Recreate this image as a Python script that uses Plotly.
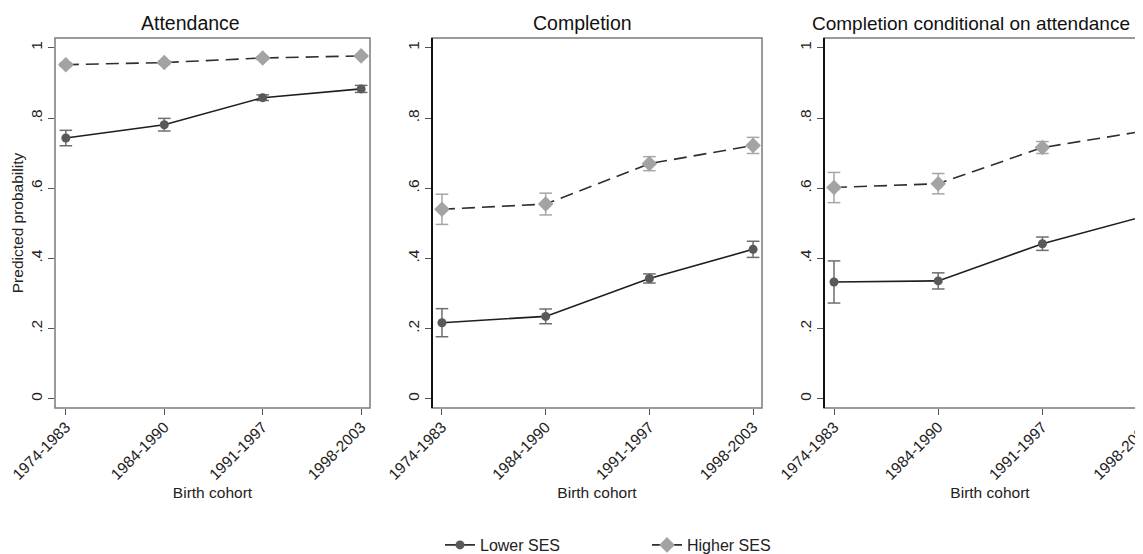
import plotly.graph_objects as go

# ---------------- data ----------------
cohorts = ["1974-1983", "1984-1990", "1991-1997", "1998-2003"]
panel_titles = ["Attendance", "Completion", "Completion conditional on attendance"]

att_lower = [0.743, 0.781, 0.858, 0.883]
att_lower_ci = [0.022, 0.018, 0.008, 0.010]
att_higher = [0.952, 0.958, 0.971, 0.977]
att_higher_ci = [0.005, 0.004, 0.004, 0.003]

comp_lower = [0.217, 0.235, 0.343, 0.426]
comp_lower_ci = [0.040, 0.021, 0.013, 0.023]
comp_higher = [0.540, 0.555, 0.670, 0.722]
comp_higher_ci = [0.043, 0.031, 0.020, 0.023]

cond_lower = [0.333, 0.336, 0.442, 0.522]
cond_lower_ci = [0.060, 0.023, 0.019, 0.025]
cond_higher = [0.602, 0.613, 0.716, 0.764]
cond_higher_ci = [0.043, 0.029, 0.017, 0.020]

ytick_vals = [0, 0.2, 0.4, 0.6, 0.8, 1]
ytick_text = ["0", ".2", ".4", ".6", ".8", "1"]

lower = [att_lower, comp_lower, cond_lower]
lower_ci = [att_lower_ci, comp_lower_ci, cond_lower_ci]
higher = [att_higher, comp_higher, cond_higher]
higher_ci = [att_higher_ci, comp_higher_ci, cond_higher_ci]

# ---------------- layout geometry ----------------
OFF = 8                  # page body margin of the browser
W, H = 1160, 546         # figure is wider than the window: third panel is cut at the edge
FONT = "Liberation Sans, Arial, sans-serif"
# plot areas in window px (left, right)
px_lr = [(55, 370), (432, 762), (824, 1156)]
title_centres = [190, 582, 971]
title_sizes = [19.5, 19.5, 19]
px_top, px_bot = 38, 408
xranges = [[-0.11, 3.09], [-0.096, 3.086], [-0.096, 3.09]]
yrange = [-0.026, 1.028]
TICK_SIZE = 15.5
TITLE_SIZE = 15.5


def fx(px):
    return (px - OFF) / W


def fy(py):
    return (H - (py - OFF)) / H


LOWER_MK = "#595959"
LOWER_LINE = "#1e1e1e"
HIGHER_MK = "#a3a3a3"
HIGHER_LINE = "#2e2e2e"
LOWER_ERR = "#6e6e6e"
HIGHER_ERR = "#a6a6a6"

fig = go.Figure()
idx = list(range(len(cohorts)))


def add_ci(values, ci, color, xa, ya):
    """Confidence-interval bars (stem + caps) built from the value/ci arrays."""
    sx, sy, cx, cy = [], [], [], []
    for i, v, e in zip(idx, values, ci):
        sx += [i, i, None]
        sy += [v - e, v + e, None]
        cx += [i, i]
        cy += [v - e, v + e]
    fig.add_trace(go.Scatter(x=sx, y=sy, xaxis=xa, yaxis=ya, mode="lines",
                             line=dict(color=color, width=1.5),
                             showlegend=False, hoverinfo="skip"))
    fig.add_trace(go.Scatter(x=cx, y=cy, xaxis=xa, yaxis=ya, mode="markers",
                             marker=dict(symbol="line-ew", size=9,
                                         line=dict(color=color, width=1.5)),
                             showlegend=False, hoverinfo="skip"))


for p in range(3):
    xa = "x" if p == 0 else f"x{p+1}"
    ya = "y" if p == 0 else f"y{p+1}"
    add_ci(lower[p], lower_ci[p], LOWER_ERR, xa, ya)
    add_ci(higher[p], higher_ci[p], HIGHER_ERR, xa, ya)
    fig.add_trace(go.Scatter(
        x=idx, y=lower[p], xaxis=xa, yaxis=ya, mode="lines+markers",
        name="Lower SES", legendgroup="low", showlegend=(p == 0),
        line=dict(color=LOWER_LINE, width=1.6),
        marker=dict(symbol="circle", size=9, color=LOWER_MK),
    ))
    fig.add_trace(go.Scatter(
        x=idx, y=higher[p], xaxis=xa, yaxis=ya, mode="lines+markers",
        name="Higher SES", legendgroup="high", showlegend=(p == 0),
        line=dict(color=HIGHER_LINE, width=1.6, dash="13px,7px"),
        marker=dict(symbol="diamond", size=12, color=HIGHER_MK),
    ))

dom_y = [fy(px_bot), fy(px_top)]
annotations = []
shapes = []
for p in range(3):
    l, r = px_lr[p]
    dom_x = [fx(l), min(fx(r), 1.0)]
    xkey = "xaxis" if p == 0 else f"xaxis{p+1}"
    ykey = "yaxis" if p == 0 else f"yaxis{p+1}"
    xa = "x" if p == 0 else f"x{p+1}"
    ya = "y" if p == 0 else f"y{p+1}"
    fig.layout[xkey] = dict(
        domain=dom_x, anchor=ya, range=xranges[p], automargin=False,
        tickmode="array", tickvals=idx, ticktext=cohorts, tickangle=-45,
        ticks="outside", ticklen=6, tickcolor="#555", tickwidth=1.2,
        ticklabelstandoff=-3,
        showgrid=False, zeroline=False, showline=False,
        tickfont=dict(family=FONT, size=TICK_SIZE, color="#222"),
        title=dict(text="Birth cohort", font=dict(family=FONT, size=TITLE_SIZE, color="#222"),
                   standoff=5),
    )
    fig.layout[ykey] = dict(
        domain=dom_y, anchor=xa, range=yrange, automargin=False,
        tickmode="array", tickvals=ytick_vals, ticktext=ytick_text, tickangle=-90,
        ticks="outside", ticklen=6, tickcolor="#555", tickwidth=1.2,
        showgrid=False, zeroline=False, showline=False,
        tickfont=dict(family=FONT, size=TICK_SIZE, color="#222"),
        title=dict(text="Predicted probability" if p == 0 else "",
                   font=dict(family=FONT, size=TITLE_SIZE, color="#222"), standoff=0),
    )
    # plot-region frame
    shapes.append(dict(type="rect", xref=f"{xa} domain", yref=f"{ya} domain",
                       x0=0, x1=1, y0=0, y1=1, line=dict(color="#7a7a7a", width=1.5),
                       layer="above"))
    if p > 0:
        shapes.append(dict(type="line", xref=f"{xa} domain", yref=f"{ya} domain",
                           x0=0, x1=0, y0=0, y1=1, line=dict(color="#111", width=2),
                           layer="above"))
    annotations.append(dict(
        text=panel_titles[p], xref="paper", yref="paper",
        x=fx(title_centres[p]), y=fy(23), xanchor="center", yanchor="middle",
        showarrow=False, font=dict(family=FONT, size=title_sizes[p], color="#111"),
    ))

fig.update_layout(
    width=W, height=H,
    margin=dict(l=0, r=0, t=0, b=0, autoexpand=False),
    paper_bgcolor="white", plot_bgcolor="white",
    font=dict(family=FONT, color="#222"),
    showlegend=True,
    legend=dict(orientation="h", x=fx(440), xanchor="left", y=fy(545),
                yanchor="middle", font=dict(family=FONT, size=16, color="#222"),
                entrywidth=162, entrywidthmode="pixels",
                bgcolor="rgba(0,0,0,0)"),
    annotations=annotations,
    shapes=shapes,
)

fig.write_html("out.html")
